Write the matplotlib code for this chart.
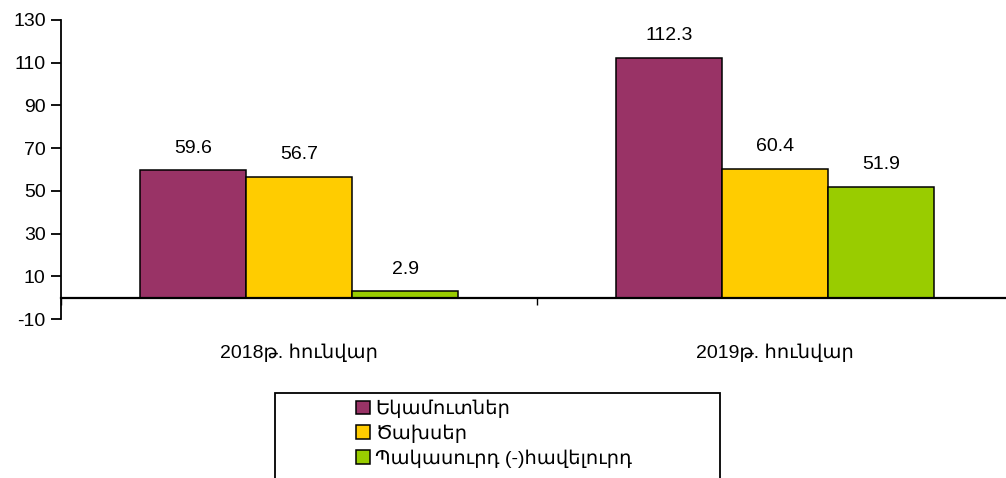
import numpy as np
import matplotlib.pyplot as plt
from matplotlib.patches import Rectangle

plt.rcParams['font.family'] = ['Liberation Sans', 'DejaVu Sans']
plt.rcParams['axes.unicode_minus'] = False

categories = ['2018թ. հունվար', '2019թ. հունվար']
series_names = ['Եկամուտներ', 'Ծախսեր', 'Պակասուրդ (-)հավելուրդ']
values = [
    [59.6, 112.3],
    [56.7, 60.4],
    [2.9, 51.9],
]
colors = ['#993366', '#FFCC00', '#99CC00']
yticks = [-10, 10, 30, 50, 70, 90, 110, 130]

fig = plt.figure(figsize=(10.06, 4.78), dpi=100)
ax = fig.add_axes([61/1006, 1-319/478, (1013-61)/1006, (319-20)/478])

x = np.arange(len(categories))
w = 0.223
for i, (name, vals, c) in enumerate(zip(series_names, values, colors)):
    pos = x + (i - 1) * w
    bars = ax.bar(pos, vals, w, color=c, edgecolor='black', linewidth=1.1, label=name, zorder=2)
    for b, v in zip(bars, vals):
        ax.annotate(f'{v}', (b.get_x() + b.get_width()/2, v), xytext=(0, 16),
                    textcoords='offset points', ha='center', va='center', fontsize=14)

ax.set_xlim(-0.5, 1.5)
ax.set_ylim(-10, 130)
ax.set_yticks(yticks)
ax.tick_params(axis='y', labelsize=14, length=7, width=1.3, pad=4)

ax.spines['top'].set_visible(False)
ax.spines['right'].set_visible(False)
ax.spines['bottom'].set_position(('data', 0))
ax.spines['bottom'].set_linewidth(1.6)
ax.spines['left'].set_linewidth(1.3)
ax.spines['bottom'].set_zorder(3)

ax.set_xticks(x)
ax.set_xticklabels(categories)
ax.tick_params(axis='x', which='major', length=0, pad=33, labelsize=14)
ax.set_xticks([-0.5, 0.5, 1.5], minor=True)
ax.tick_params(axis='x', which='minor', length=5, width=1.0)

# legend box
fig.patches.append(Rectangle((275/1006, -0.05), (720-275)/1006, 1-393/478+0.05,
                             transform=fig.transFigure, fill=False,
                             edgecolor='black', linewidth=1.3))
fig.legend(loc='upper left', bbox_to_anchor=(356/1006, 1-400/478), frameon=False,
           fontsize=14, handlelength=0.7, handleheight=0.7, handletextpad=0.3,
           labelspacing=0.32, borderaxespad=0, borderpad=0)

fig.savefig('out.png', dpi=100)
